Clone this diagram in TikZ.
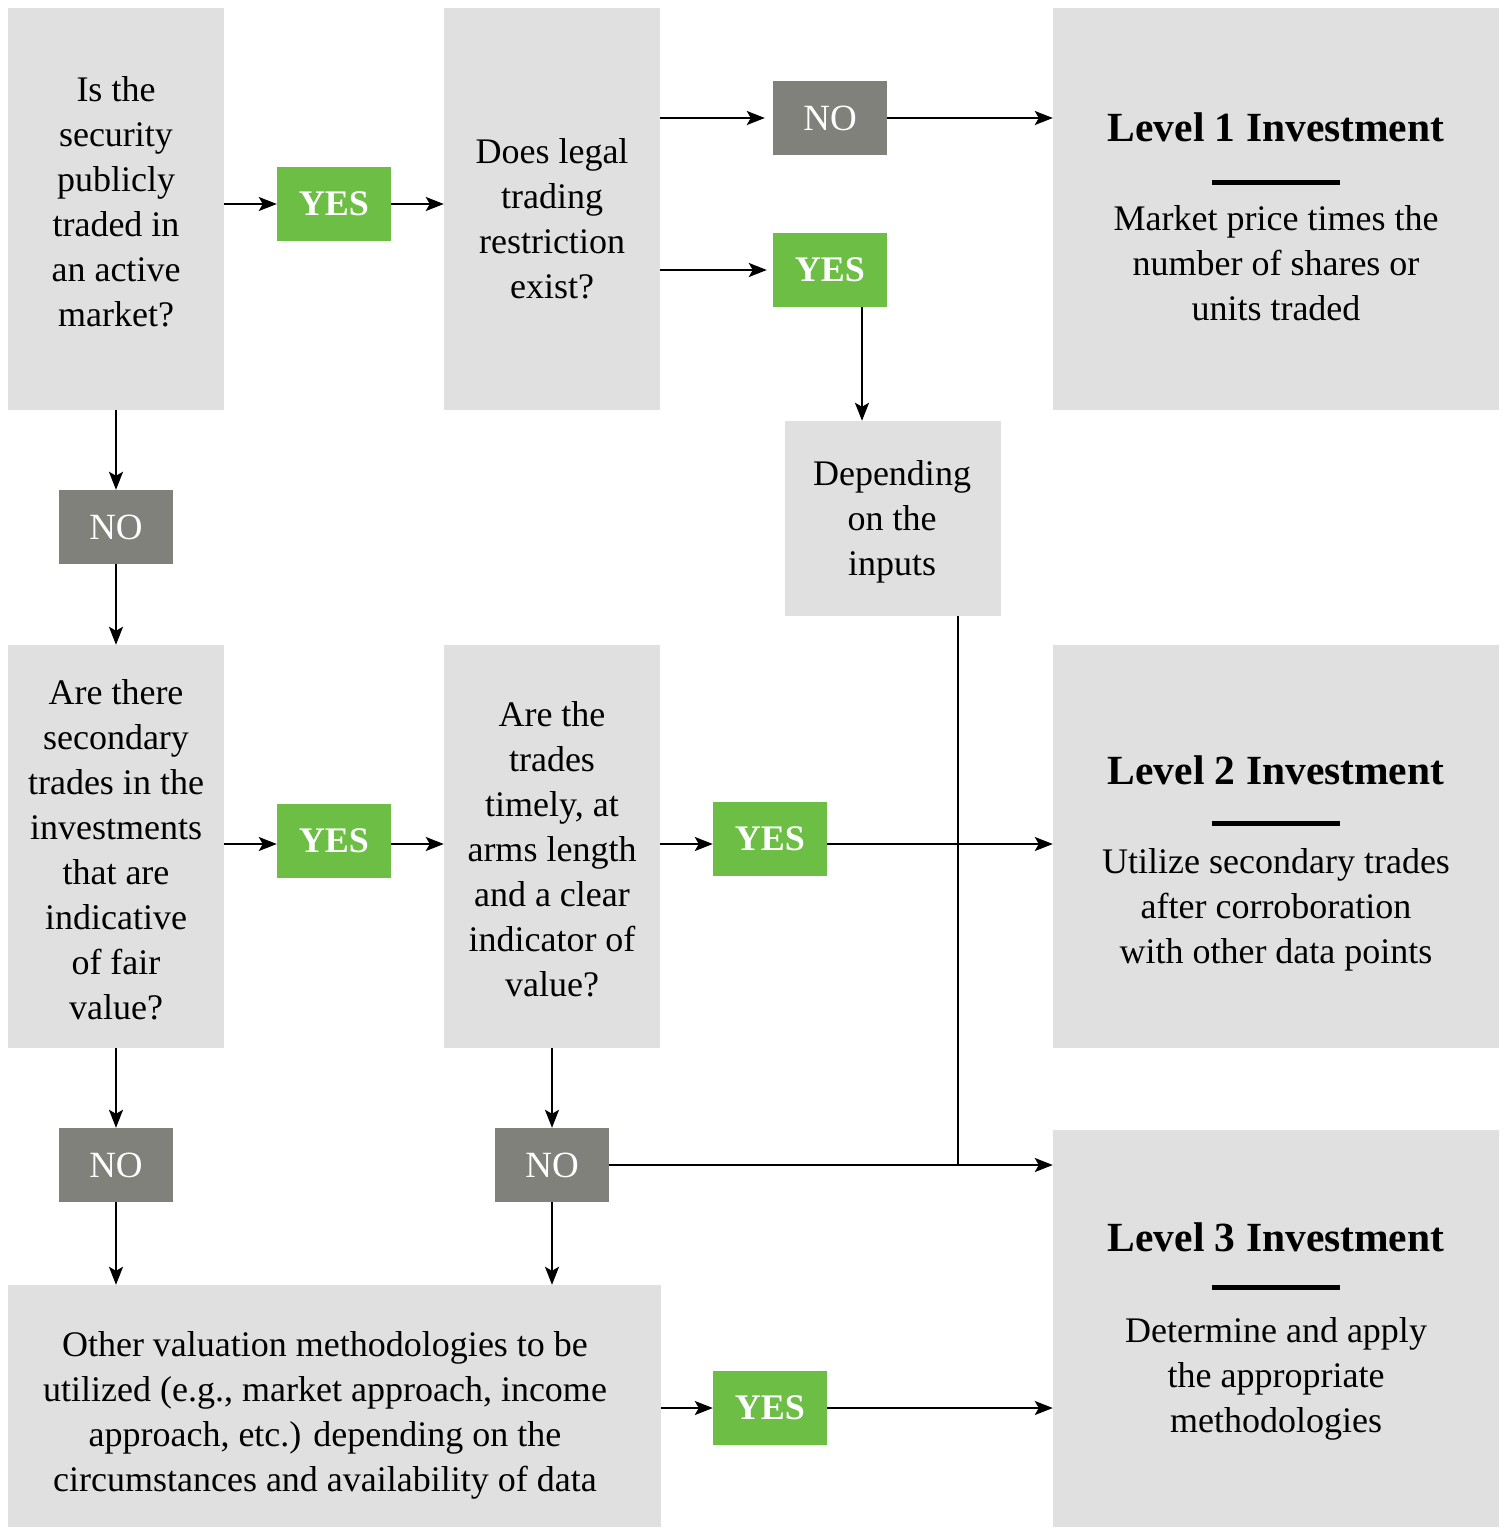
\documentclass[tikz,border=0pt]{standalone}
\usepackage{fontspec}
\setmainfont{Liberation Serif}
\usetikzlibrary{arrows.meta}
\definecolor{boxgray}{HTML}{E0E0E0}
\definecolor{nogray}{HTML}{80817B}
\definecolor{yesgreen}{HTML}{6DBE45}
\begin{document}
\begin{tikzpicture}[x=1pt,y=-1pt,
 qbox/.style={fill=boxgray, inner sep=0pt},
 lbox/.style={fill=boxgray, inner sep=0pt, minimum width=446},
 nobox/.style={fill=nogray, text=white, minimum width=114, minimum height=74, inner sep=0pt, font=\fontsize{37}{40}\selectfont},
 yesbox/.style={fill=yesgreen, text=white, minimum width=114, minimum height=74, inner sep=0pt, font=\fontsize{36}{40}\selectfont\bfseries},
 arr/.style={line width=2.2pt, -{Stealth[length=18pt,width=14pt,inset=4pt]}},
 ln/.style={line width=2.2pt},
 txt/.style={align=center, inner sep=0pt, font=\fontsize{36}{45}\selectfont},
 ttl/.style={inner sep=0pt, font=\fontsize{41.5}{45}\selectfont\bfseries},
 bar/.style={line width=5pt}]
\path[use as bounding box, fill=white] (0,0) rectangle (1506,1528);

% question boxes
\node[qbox, minimum width=216, minimum height=402] (A) at (116,209) {};
\node[qbox, minimum width=216, minimum height=402] (B) at (552,209) {};
\node[qbox, minimum width=216, minimum height=195] (Dep) at (893,518.5) {};
\node[qbox, minimum width=216, minimum height=403] (C) at (116,846.5) {};
\node[qbox, minimum width=216, minimum height=403] (D) at (552,846.5) {};
\node[qbox, minimum width=653, minimum height=242] (E) at (334.5,1406) {};
\node[txt] (At) at (116,202) {Is the\\security\\publicly\\traded in\\an active\\market?};
\node[txt] (Bt) at (552,218.5) {Does legal\\trading\\restriction\\exist?};
\node[txt] (Dept) at (892,521.5) {Depending\\on the\\inputs};
\node[txt] (Ct) at (116,850) {Are there\\secondary\\trades in the\\investments\\that are\\indicative\\of fair\\value?};
\node[txt] (Dt) at (552,849) {Are the\\trades\\timely, at\\arms length\\and a clear\\indicator of\\value?};
\node[txt] (Et) at (325,1415) {Other valuation methodologies to be\\utilized (e.g., market approach, income\\approach, etc.) depending on the\\circumstances and availability of data};

% level boxes
\node[lbox, minimum height=402] (L1) at (1276,209) {};
\node[lbox, minimum height=403] (L2) at (1276,846.5) {};
\node[lbox, minimum height=397] (L3) at (1276,1328.5) {};
\node[ttl] (t1) at (1276,127) {Level 1 Investment};
\node[ttl] (t2) at (1276,770) {Level 2 Investment};
\node[ttl] (t3) at (1276,1237) {Level 3 Investment};
\draw[bar] (1212,182) -- (1340,182);
\draw[bar] (1212,823) -- (1340,823);
\draw[bar] (1212,1287) -- (1340,1287);
\node[txt] (b1) at (1276,263) {Market price times the\\number of shares or\\units traded};
\node[txt] (b2) at (1276,909.5) {Utilize secondary trades\\after corroboration\\with other data points};
\node[txt] (b3) at (1276,1378.5) {Determine and apply\\the appropriate\\methodologies};

% yes / no boxes
\node[nobox] (NO1) at (830,118) {NO};
\node[yesbox] (YES1) at (334,204) {YES};
\node[yesbox] (YES2) at (830,270) {YES};
\node[nobox] (NO2) at (116,527) {NO};
\node[yesbox] (YES3) at (334,841) {YES};
\node[yesbox] (YES4) at (770,839) {YES};
\node[nobox] (NO3) at (116,1165) {NO};
\node[nobox] (NO4) at (552,1165) {NO};
\node[yesbox] (YES5) at (770,1408) {YES};

\coordinate (r3) at (0,844);

% connectors
\draw[arr] (A.east |- YES1.west) -- (YES1.west);
\draw[arr] (YES1.east) -- (YES1.east -| B.west);
\draw[arr] (B.east |- NO1.west) -- ([xshift=-8pt]NO1.west);
\draw[arr] (NO1.east) -- (NO1.east -| L1.west);
\draw[arr] (B.east |- YES2.west) -- ([xshift=-6pt]YES2.west);
\draw[arr] ([xshift=32pt]YES2.south) -- ([xshift=32pt]YES2.south |- Dep.north);
\draw[ln] ([xshift=65pt]Dep.south) -- ([xshift=65pt]Dep.south |- NO4.east);
\draw[arr] (A.south) -- (NO2.north);
\draw[arr] (NO2.south) -- (C.north);
\draw[arr] (C.east |- r3) -- (YES3.west |- r3);
\draw[arr] (YES3.east |- r3) -- (D.west |- r3);
\draw[arr] (D.east |- r3) -- (YES4.west |- r3);
\draw[arr] (YES4.east |- r3) -- (L2.west |- r3);
\draw[arr] (C.south) -- (NO3.north);
\draw[arr] (NO3.south) -- (NO3.south |- E.north);
\draw[arr] (D.south) -- (NO4.north);
\draw[arr] (NO4.south) -- (NO4.south |- E.north);
\draw[arr] (NO4.east) -- (NO4.east -| L3.west);
\draw[arr] (E.east |- YES5.west) -- (YES5.west);
\draw[arr] (YES5.east) -- (YES5.east -| L3.west);
\end{tikzpicture}
\end{document}
